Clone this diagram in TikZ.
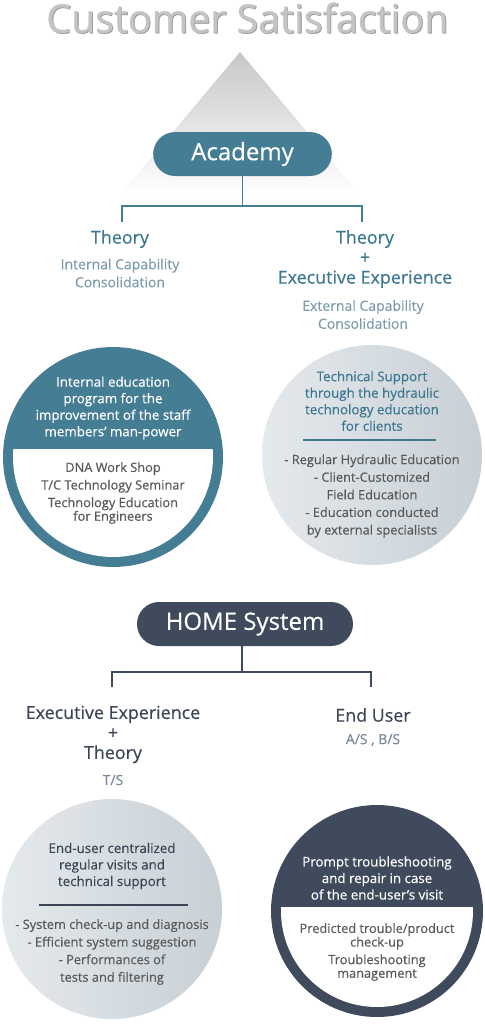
\documentclass[tikz,border=0pt]{standalone}
\usepackage{fontspec}
\setmainfont{Open Sans}[FakeBold=0.35]
\newfontfamily\titlefont{Open Sans}[FakeBold=0.8]
\usetikzlibrary{calc}
\definecolor{tealA}{HTML}{457D94}
\definecolor{tealT}{HTML}{3D7790}
\definecolor{tealL}{HTML}{7D9DAE}
\definecolor{slate}{HTML}{3F4B5D}
\definecolor{slateT}{HTML}{3B4556}
\definecolor{slateL}{HTML}{7A889B}
\definecolor{grayT}{HTML}{595959}
\definecolor{circLight}{HTML}{E4E9EC}
\definecolor{circDark}{HTML}{C8D0D6}
\definecolor{titleGray}{HTML}{C4C4C4}
\definecolor{titleShadow}{HTML}{9A9A9A}
\tikzset{
  pill/.style={rounded corners=16.5pt, minimum width=134pt, minimum height=33pt, text=white, font=\fontsize{18}{20}\selectfont, inner sep=0pt},
  head/.style={align=center, font=\fontsize{13.4}{15}\selectfont, inner sep=0pt},
  sub/.style={align=center, font=\fontsize{10.5}{13.5}\selectfont, inner sep=0pt},
  ctext/.style={align=center, font=\fontsize{10}{12.4}\selectfont, inner sep=0pt},
  btext/.style={align=center, font=\fontsize{9.6}{13.2}\selectfont, inner sep=0pt},
  disc/.style={circle, minimum size=165pt, inner sep=0pt},
  ttl/.style={font=\titlefont\fontsize{29.5}{31}\selectfont, inner sep=0pt},
}
\begin{document}
\begin{tikzpicture}[x=0.75pt,y=-0.75pt]
\useasboundingbox (0,0) rectangle (485,1026);
% title
\node[ttl, text=titleShadow] (titleshadow) at (248.2,18.6) {Customer Satisfaction};
\node[ttl, text=titleGray] (title) at (247.3,17.8) {Customer Satisfaction};
% triangle
\shade[top color=black!22, middle color=black!7, bottom color=white] (240,52) -- (360,195) -- (120,195) -- cycle;
% Academy
\node[pill, fill=tealA] (academy) at (242.5,154) {Academy};
\coordinate (j1) at (242.5,206);
\coordinate (brL) at (122,222);
\coordinate (brR) at (362,222);
\draw[tealA, line width=0.9pt] (academy.south) -- (j1);
\draw[tealA, line width=0.9pt] (brL) |- (j1) -| (brR);
% left heading
\node[head, text=tealT] (theoryL) at (120,239) {Theory};
\node[sub, text=tealL] (capL) at (120,273) {Internal Capability\\Consolidation};
% right heading
\node[head, text=tealT] (theoryR) at (365,259) {Theory\\+\\Executive Experience};
\node[sub, text=tealL] (capR) at (363,314.5) {External Capability\\Consolidation};
% left academy circle
\node[disc, fill=tealA] (circA) at (113,457) {};
\begin{scope}
\clip (0,449) rectangle (240,580);
\fill[white] (circA.center) circle (100);
\end{scope}
\node[ctext, text=white] (circAtop) at (113,408) {Internal education\\program for the\\improvement of the staff\\members’ man-power};
\node[btext, text=grayT] (circAbot) at (113,493) {DNA Work Shop\\T/C Technology Seminar\\Technology Education\\[-3pt]for Engineers};
% right academy circle
\node[disc, shade, left color=circLight, right color=circDark] (circB) at (372,455) {};
\node[ctext, text=tealT] (circBtop) at (372,401) {Technical Support\\through the hydraulic\\technology education\\for clients};
\coordinate (lineB1) at (303,440);
\coordinate (lineB2) at (436,440);
\draw[tealT, line width=0.8pt] (lineB1) -- (lineB2);
\node[btext, text=grayT] (circBbot) at (372,496) {- Regular Hydraulic Education\\- Client-Customized\\Field Education\\- Education conducted\\by external specialists};
% HOME system
\node[pill, fill=slate, minimum width=162pt] (home) at (245,624) {HOME System};
\coordinate (j2) at (242,672);
\coordinate (brL2) at (112,687);
\coordinate (brR2) at (371,687);
\draw[slate, line width=0.9pt] (home.south -| j2) -- (j2);
\draw[slate, line width=0.9pt] (brL2) |- (j2) -| (brR2);
\node[head, text=slateT] (execL) at (113,734.5) {Executive Experience\\+\\Theory};
\node[sub, text=slateL] (tsL) at (113,780) {T/S};
\node[head, text=slateT] (endU) at (373,715) {End User};
\node[sub, text=slateL] (asbs) at (373,740) {A/S , B/S};
% bottom left circle
\node[disc, shade, left color=circLight, right color=circDark] (circC) at (112,909) {};
\node[ctext, text=slateT] (circCtop) at (112,866) {End-user centralized\\regular visits and\\technical support};
\coordinate (lineC1) at (39,905);
\coordinate (lineC2) at (188,905);
\draw[slateT, line width=0.8pt] (lineC1) -- (lineC2);
\node[btext, text=grayT] (circCbot) at (112,952) {- System check-up and diagnosis\\- Efficient system suggestion\\- Performances of\\tests and filtering};
% bottom right circle
\node[disc, fill=slate, minimum size=159pt] (circD) at (377,911) {};
\begin{scope}
\clip (260,907) rectangle (490,1026);
\fill[white] (circD.center) circle (96);
\end{scope}
\node[ctext, text=white] (circDtop) at (377,878) {Prompt troubleshooting\\and repair in case\\of the end-user’s visit};
\node[btext, text=grayT] (circDbot) at (377,952) {Predicted trouble/product\\[-3pt]check-up\\Troubleshooting\\[-3pt]management};
\end{tikzpicture}
\end{document}
